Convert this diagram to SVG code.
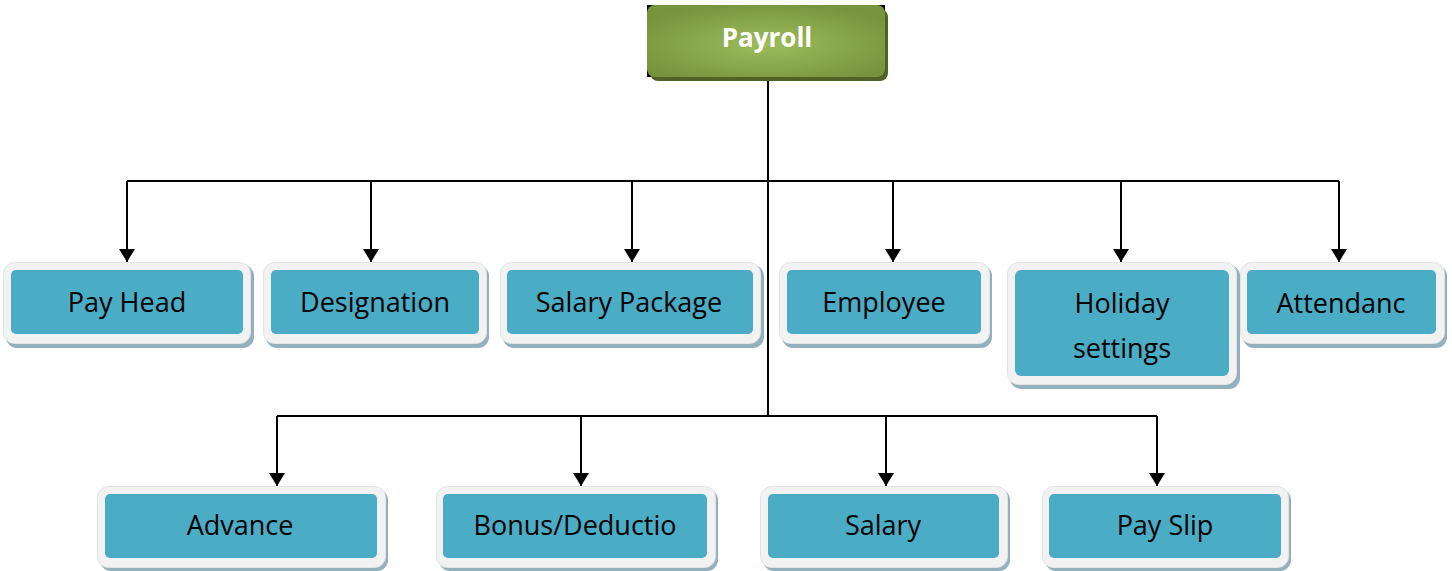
<svg xmlns="http://www.w3.org/2000/svg" width="1452" height="571" viewBox="0 0 1452 571">
<defs>
<radialGradient id="gGreen" cx="50%" cy="55%" r="60%">
<stop offset="0" stop-color="#9dbd5c"/>
<stop offset="1" stop-color="#77933c"/>
</radialGradient>
<marker id="arr" markerUnits="userSpaceOnUse" markerWidth="14" markerHeight="16" refX="13" refY="8" orient="auto" viewBox="0 0 14 16">
<path d="M0,0 L13,8 L0,16 Z" fill="#000"/>
</marker>
<style>
.shadow{fill:#93b0bc;}
.frame{fill:#f2f2f2;stroke:#e3e3e3;stroke-width:1;}
.inner{fill:#4bacc6;}
.lbl{font-family:"Open Sans","Noto Sans",sans-serif;font-size:27px;fill:#000;text-anchor:middle;}
.title{font-family:"Open Sans","Noto Sans",sans-serif;font-size:26px;font-weight:bold;fill:#fff;text-anchor:middle;}
.conn{stroke:#000;stroke-width:2;fill:none;}
</style>
</defs>
<rect width="1452" height="571" fill="#fff"/>

<g id="connectors">
<path class="conn" d="M768,80 L768,416"/>
<path class="conn" d="M127,181 L1339,181"/>
<path class="conn" d="M277,416 L1157,416"/>
<path class="conn" d="M127,181 V262" marker-end="url(#arr)"/>
<path class="conn" d="M371,181 V262" marker-end="url(#arr)"/>
<path class="conn" d="M632,181 V262" marker-end="url(#arr)"/>
<path class="conn" d="M893,181 V262" marker-end="url(#arr)"/>
<path class="conn" d="M1121,181 V262" marker-end="url(#arr)"/>
<path class="conn" d="M1339,181 V262" marker-end="url(#arr)"/>
<path class="conn" d="M277,416 V486" marker-end="url(#arr)"/>
<path class="conn" d="M581,416 V486" marker-end="url(#arr)"/>
<path class="conn" d="M886,416 V486" marker-end="url(#arr)"/>
<path class="conn" d="M1157,416 V486" marker-end="url(#arr)"/>
</g>

<g id="payroll">
<rect x="647" y="5" width="238" height="72" fill="#000"/>
<rect x="650" y="9" width="238" height="72" rx="8" fill="#4f6228"/>
<rect x="647" y="5" width="238" height="72" rx="8" fill="url(#gGreen)"/>
<text class="title" x="767" y="47">Payroll</text>
</g>

<g id="payhead">
<rect class="shadow" x="6" y="265" width="248" height="83" rx="11"/>
<rect class="frame" x="3.5" y="262.5" width="247" height="81" rx="11"/>
<rect class="inner" x="11" y="270" width="232" height="64" rx="5"/>
<text class="lbl" x="127" y="312">Pay Head</text>
</g>

<g id="designation">
<rect class="shadow" x="266" y="265" width="223" height="83" rx="11"/>
<rect class="frame" x="263.5" y="262.5" width="223" height="81" rx="11"/>
<rect class="inner" x="271" y="270" width="208" height="64" rx="5"/>
<text class="lbl" x="375" y="312">Designation</text>
</g>

<g id="salarypackage">
<rect class="shadow" x="503" y="265" width="261" height="83" rx="11"/>
<rect class="frame" x="500.5" y="262.5" width="260" height="81" rx="11"/>
<rect class="inner" x="507" y="270" width="246" height="64" rx="5"/>
<text class="lbl" x="629" y="312">Salary Package</text>
</g>

<g id="employee">
<rect class="shadow" x="782" y="265" width="210" height="83" rx="11"/>
<rect class="frame" x="779.5" y="262.5" width="210" height="81" rx="11"/>
<rect class="inner" x="787" y="270" width="194" height="64" rx="5"/>
<text class="lbl" x="884" y="312">Employee</text>
</g>

<g id="holiday">
<rect class="shadow" x="1010" y="265" width="230" height="124" rx="11"/>
<rect class="frame" x="1007.5" y="262.5" width="229" height="122" rx="11"/>
<rect class="inner" x="1015" y="270" width="214" height="106" rx="6"/>
<text class="lbl" x="1122" y="313">Holiday</text>
<text class="lbl" x="1122" y="358">settings</text>
</g>

<g id="attendance">
<rect class="shadow" x="1243" y="265" width="204" height="83" rx="11"/>
<rect class="frame" x="1240.5" y="262.5" width="204" height="81" rx="11"/>
<rect class="inner" x="1247" y="270" width="189" height="64" rx="5"/>
<text class="lbl" x="1341" y="313">Attendanc</text>
</g>

<g id="advance">
<rect class="shadow" x="100" y="489" width="288" height="82" rx="11"/>
<rect class="frame" x="97.5" y="486.5" width="288" height="81" rx="11"/>
<rect class="inner" x="105" y="494" width="272" height="64" rx="5"/>
<text class="lbl" x="240" y="535">Advance</text>
</g>

<g id="bonus">
<rect class="shadow" x="439" y="489" width="279" height="82" rx="11"/>
<rect class="frame" x="436.5" y="486.5" width="279" height="81" rx="11"/>
<rect class="inner" x="443" y="494" width="264" height="64" rx="5"/>
<text class="lbl" x="575" y="535">Bonus/Deductio</text>
</g>

<g id="salary">
<rect class="shadow" x="763" y="489" width="247" height="82" rx="11"/>
<rect class="frame" x="760.5" y="486.5" width="247" height="81" rx="11"/>
<rect class="inner" x="768" y="494" width="231" height="64" rx="5"/>
<text class="lbl" x="883" y="535">Salary</text>
</g>

<g id="payslip">
<rect class="shadow" x="1045" y="489" width="246" height="82" rx="11"/>
<rect class="frame" x="1042.5" y="486.5" width="246" height="81" rx="11"/>
<rect class="inner" x="1049" y="494" width="232" height="64" rx="5"/>
<text class="lbl" x="1165" y="535">Pay Slip</text>
</g>
</svg>
